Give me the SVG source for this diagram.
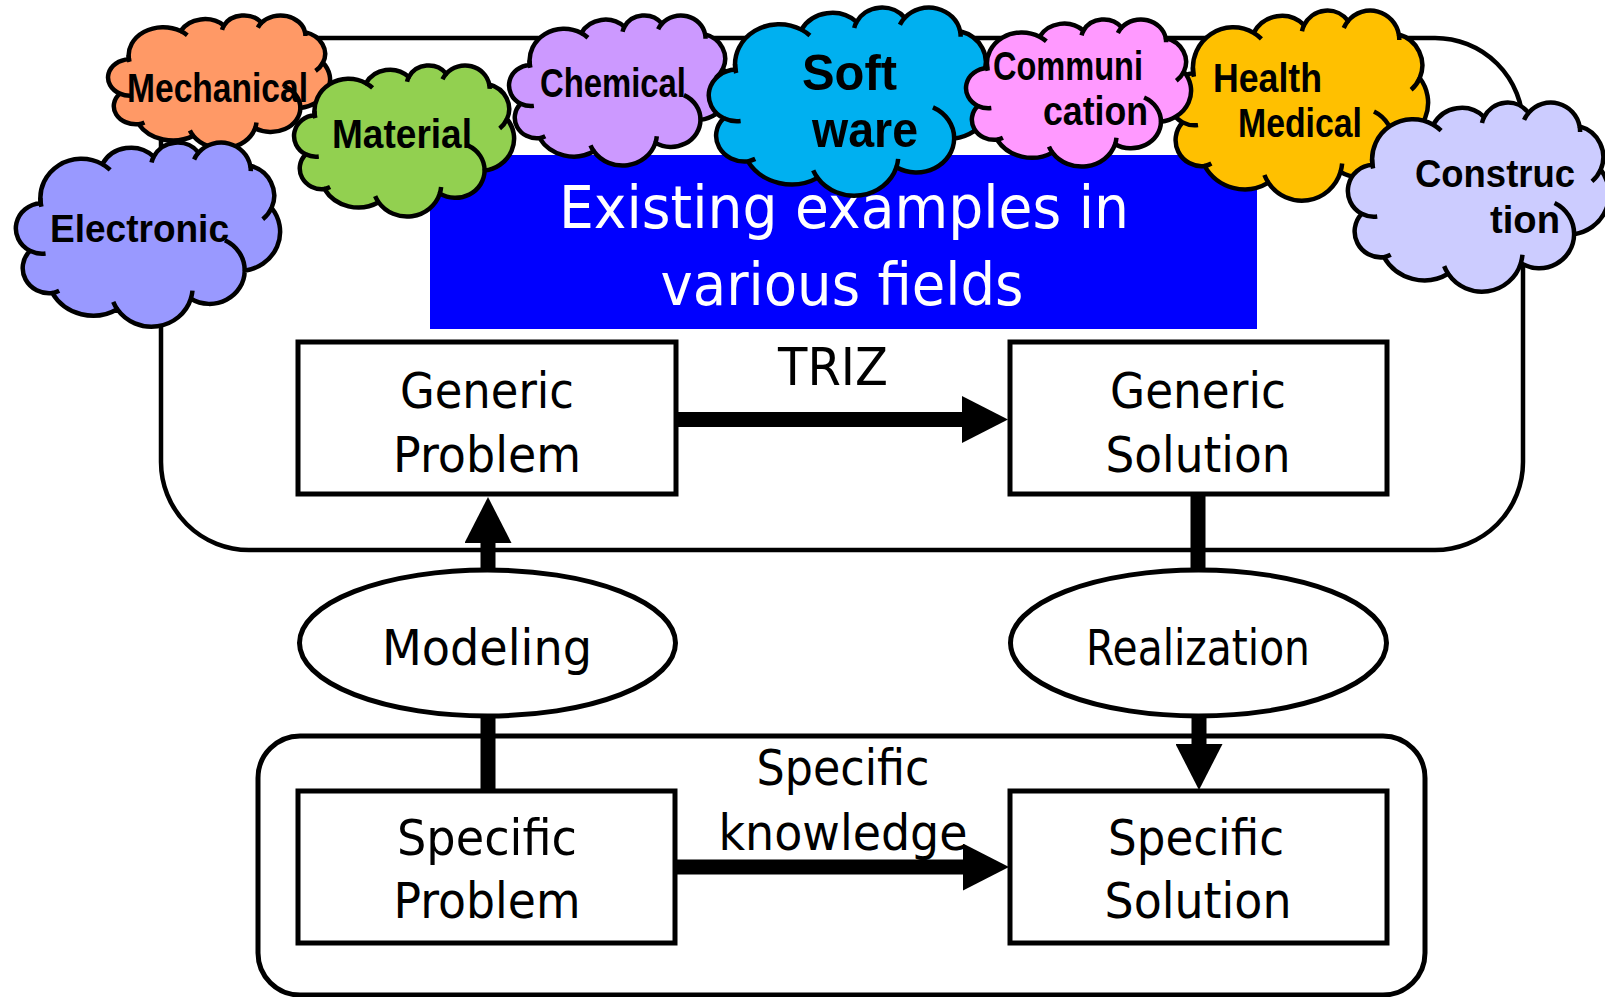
<svg xmlns="http://www.w3.org/2000/svg" xmlns:xlink="http://www.w3.org/1999/xlink" width="1605" height="997" viewBox="0 0 1605 997">
<style>
.main{font-family:"DejaVu Sans","Liberation Sans",sans-serif;fill:#000;text-anchor:middle}
.title{font-family:"DejaVu Sans","Liberation Sans",sans-serif;fill:#fff;text-anchor:middle;font-size:58px}
.cl{font-family:"Liberation Sans","DejaVu Sans",sans-serif;font-weight:bold;fill:#000;text-anchor:middle}
.box{fill:#fff;stroke:#000;stroke-width:5}
.cont{fill:none;stroke:#000;stroke-width:4.5}
.conn{stroke:#000;stroke-width:15;fill:none}
</style>
<defs>
<g id="cloud">
<path d="M9.03 33.26A15.63 21.27 0 0 1 32.42 12.04A12.34 16.82 0 0 1 51.98 7.95A10.1 13.76 0 0 1 69.06 5.74A11.24 15.27 0 0 1 88.7 12.91A12.34 16.84 0 0 1 96.8 35.79A15.68 21.34 0 0 1 86.58 69.92A13.39 18.21 0 0 1 66.1 85.22A15.63 21.33 0 0 1 38.15 90.89A17.87 24.41 0 0 1 13.43 82.11A10.09 13.7 0 0 1 4.89 59.14A10.06 13.76 0 0 1 9.03 33.26Z" stroke="#000" stroke-width="4.5" stroke-linejoin="round" vector-effect="non-scaling-stroke"/>
<path d="M10.86 60.59A10.06 13.76 0 0 1 4.89 59.14M16.04 80.78A10.09 13.7 0 0 1 13.43 82.11M38.15 90.89A15.63 21.33 0 0 1 36.6 86.86M66.72 80.8A15.63 21.33 0 0 1 66.1 85.22M79.06 53.4A13.39 18.21 0 0 1 86.58 69.92M96.8 35.79A12.34 16.84 0 0 1 93.45 41.99M88.7 12.91A11.24 15.27 0 0 1 88.88 15.83M67.34 9.48A11.24 15.27 0 0 1 69.06 5.74M51.15 11.16A10.1 13.76 0 0 1 51.98 7.95M32.42 12.04A15.63 21.27 0 0 1 35.43 15.16M9.28 35.17A15.63 21.27 0 0 1 8.88 30.28" fill="none" stroke="#000" stroke-width="4.5" vector-effect="non-scaling-stroke"/>
</g>
<marker id="head" viewBox="0 0 46 47" markerUnits="userSpaceOnUse" markerWidth="46" markerHeight="47" refX="0" refY="23.5" orient="auto">
<path d="M0 0L46 23.5L0 47Z" fill="#000"/>
</marker>
</defs>
<rect x="0" y="0" width="1605" height="997" fill="#fff"/>

<g id="generic-container"><rect class="cont" x="161" y="38" width="1362" height="512" rx="88" ry="88"/></g>
<g id="specific-container"><rect class="cont" x="258" y="736" width="1167" height="259" rx="42" ry="42" style="stroke-width:5"/></g>

<g id="existing-examples">
<rect x="430" y="155" width="827" height="174" fill="#0000ff"/>
<text class="title" x="844" y="228" textLength="570" lengthAdjust="spacingAndGlyphs">Existing examples in</text>
<text class="title" x="842" y="305" textLength="363" lengthAdjust="spacingAndGlyphs">various fields</text>
</g>

<g id="generic-problem">
<rect class="box" x="298" y="342" width="378" height="152"/>
<text class="main" font-size="50" x="487" y="408" textLength="174" lengthAdjust="spacingAndGlyphs">Generic</text>
<text class="main" font-size="50" x="487" y="472" textLength="188" lengthAdjust="spacingAndGlyphs">Problem</text>
</g>
<g id="generic-solution">
<rect class="box" x="1010" y="342" width="377" height="152"/>
<text class="main" font-size="50" x="1198" y="408" textLength="176" lengthAdjust="spacingAndGlyphs">Generic</text>
<text class="main" font-size="50" x="1198" y="472" textLength="185" lengthAdjust="spacingAndGlyphs">Solution</text>
</g>
<g id="modeling">
<ellipse cx="487.5" cy="643" rx="188" ry="73" fill="#fff" stroke="#000" stroke-width="5"/>
<text class="main" font-size="49" x="487" y="665" textLength="210" lengthAdjust="spacingAndGlyphs">Modeling</text>
</g>
<g id="realization">
<ellipse cx="1198.5" cy="643" rx="188" ry="73" fill="#fff" stroke="#000" stroke-width="5"/>
<text class="main" font-size="49" x="1198" y="665" textLength="224" lengthAdjust="spacingAndGlyphs">Realization</text>
</g>
<g id="specific-problem">
<rect class="box" x="298" y="791" width="377" height="152"/>
<text class="main" font-size="50" x="487" y="855" textLength="180" lengthAdjust="spacingAndGlyphs">Specific</text>
<text class="main" font-size="50" x="487" y="918" textLength="187" lengthAdjust="spacingAndGlyphs">Problem</text>
</g>
<g id="specific-solution">
<rect class="box" x="1010" y="791" width="377" height="152"/>
<text class="main" font-size="50" x="1196" y="855" textLength="176" lengthAdjust="spacingAndGlyphs">Specific</text>
<text class="main" font-size="50" x="1198" y="918" textLength="187" lengthAdjust="spacingAndGlyphs">Solution</text>
</g>

<g id="connectors">
<text class="main" font-size="51" x="833" y="385" textLength="110" lengthAdjust="spacingAndGlyphs">TRIZ</text>
<text class="main" font-size="50" x="843" y="785" textLength="173" lengthAdjust="spacingAndGlyphs">Specific</text>
<text class="main" font-size="50" x="843" y="850" textLength="249" lengthAdjust="spacingAndGlyphs">knowledge</text>
<line class="conn" x1="488" y1="790" x2="488" y2="716"/>
<line class="conn" x1="488" y1="570" x2="488" y2="543" marker-end="url(#head)"/>
<line class="conn" x1="676" y1="419.5" x2="962" y2="419.5" marker-end="url(#head)"/>
<line class="conn" x1="1198" y1="494" x2="1198" y2="570"/>
<line class="conn" x1="1199" y1="716" x2="1199" y2="744" marker-end="url(#head)"/>
<line class="conn" x1="675" y1="867" x2="963" y2="867" marker-end="url(#head)"/>
</g>

<g id="cloud-mechanical">
<use xlink:href="#cloud" href="#cloud" transform="translate(109 15) scale(2.21 1.33)" fill="#ff9966"/>
<text class="cl" font-size="40" x="217.5" y="102" textLength="181" lengthAdjust="spacingAndGlyphs">Mechanical</text>
</g>
<g id="cloud-material">
<use xlink:href="#cloud" href="#cloud" transform="translate(295 65) scale(2.19 1.51)" fill="#92d050"/>
<text class="cl" font-size="40" x="402" y="148" textLength="140" lengthAdjust="spacingAndGlyphs">Material</text>
</g>
<g id="cloud-electronic">
<use xlink:href="#cloud" href="#cloud" transform="translate(17 142) scale(2.63 1.84)" fill="#9999ff"/>
<text class="cl" font-size="38" x="139.5" y="242" textLength="179" lengthAdjust="spacingAndGlyphs">Electronic</text>
</g>
<g id="cloud-chemical">
<use xlink:href="#cloud" href="#cloud" transform="translate(510 15) scale(2.2 1.5)" fill="#cc99ff"/>
<text class="cl" font-size="40" x="613" y="97" textLength="146" lengthAdjust="spacingAndGlyphs">Chemical</text>
</g>
<g id="cloud-software">
<use xlink:href="#cloud" href="#cloud" transform="translate(710 7) scale(2.82 1.88)" fill="#00b0f0"/>
<text class="cl" font-size="50" x="849.5" y="90" textLength="95" lengthAdjust="spacingAndGlyphs">Soft</text>
<text class="cl" font-size="50" x="865" y="147" textLength="106" lengthAdjust="spacingAndGlyphs">ware</text>
</g>
<g id="cloud-health">
<use xlink:href="#cloud" href="#cloud" transform="translate(1170 10) scale(2.58 1.9)" fill="#ffc000"/>
<text class="cl" font-size="40" x="1267.5" y="92" textLength="109" lengthAdjust="spacingAndGlyphs">Health</text>
<text class="cl" font-size="40" x="1300" y="137" textLength="124" lengthAdjust="spacingAndGlyphs">Medical</text>
</g>
<g id="cloud-communication">
<use xlink:href="#cloud" href="#cloud" transform="translate(967 19) scale(2.24 1.47)" fill="#ff99ff"/>
<text class="cl" font-size="40" x="1068" y="80" textLength="150" lengthAdjust="spacingAndGlyphs">Communi</text>
<text class="cl" font-size="40" x="1095.5" y="125" textLength="105" lengthAdjust="spacingAndGlyphs">cation</text>
</g>
<g id="cloud-construction">
<use xlink:href="#cloud" href="#cloud" transform="translate(1349 102) scale(2.6 1.89)" fill="#ccccff"/>
<text class="cl" font-size="38" x="1495" y="187" textLength="160" lengthAdjust="spacingAndGlyphs">Construc</text>
<text class="cl" font-size="38" x="1525" y="233" textLength="70" lengthAdjust="spacingAndGlyphs">tion</text>
</g>
</svg>
